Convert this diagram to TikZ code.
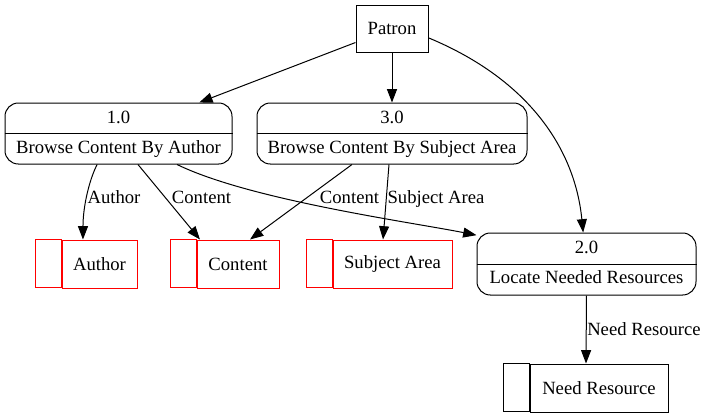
\documentclass[tikz,border=0pt]{standalone}
\usepackage{fontspec}
\setmainfont{Liberation Serif}
\usetikzlibrary{arrows.meta}

\tikzset{
  flow/.style={line width=0.75pt, -{Triangle[length=10pt,width=7.5pt]}},
  entity/.style={draw, line width=0.75pt, minimum width=54pt, minimum height=35.25pt, inner sep=0pt},
  process/.style={draw, line width=0.75pt, rounded corners=10pt, minimum height=45.75pt, inner sep=0pt},
  store/.style={line width=0.75pt, minimum height=36pt, inner sep=0pt},
  flowlabel/.style={inner sep=0pt, anchor=base}
}

\begin{document}
\begin{tikzpicture}[x=0.75pt, y=-0.75pt, font=\fontsize{14pt}{16pt}\selectfont]
\useasboundingbox (0,0) rectangle (708,419);

% external entity
\node[entity] (patron) at (392,28.5) {Patron};

% processes
\node[process, minimum width=170.25pt] (p1) at (118.5,133.5) {};
\node[process, minimum width=202.5pt] (p3) at (392,133.5) {};
\node[process, minimum width=164.25pt, minimum height=46.5pt] (p2) at (586.5,264) {};

% divider and texts of the processes
\foreach \p/\num/\txt in {p1/1.0/Browse Content By Author,
                          p3/3.0/Browse Content By Subject Area,
                          p2/2.0/Locate Needed Resources}{
  \draw[line width=0.75pt] (\p.west) -- (\p.east);
  \node[flowlabel] (\p-num) at ([yshift=-15.75pt]\p.north) {\num};
  \node[flowlabel] (\p-txt) at ([yshift=-38.25pt]\p.north) {\txt};
}

% data stores
\foreach \s/\x/\y/\w/\txt/\col in {author/99.5/264/56.25pt/Author/red,
                                   content/238/264/61.5pt/Content/red,
                                   subject/392.5/264/89.25pt/Subject Area/red,
                                   need/599/388/103.5pt/Need Resource/black}{
  \node[store, draw=\col, minimum width=\w] (\s) at (\x,\y) {\txt};
  \draw[line width=0.75pt, \col] (\s.north west) rectangle ++(-26,48);
}

% flows from patron
\draw[flow] (patron) -- (p1);
\draw[flow] (patron) -- (p3);
\draw[flow] ([yshift=-7pt]patron.east) .. controls (530,80) and (575,150) .. ([xshift=-2.5pt]p2.north);

% flows from 1.0
\draw[flow] ([xshift=-16pt]p1.south) .. controls (90,178) and (83,205) .. ([xshift=-12.4pt]author.north);
\draw[flow] ([xshift=14.6pt]p1.south) -- ([xshift=-28.5pt]content.north);
\draw[flow] ([xshift=43.9pt]p1.south) .. controls (250,200) and (410,222) .. ([yshift=-2pt]p2.north west);

% flows from 3.0
\draw[flow] ([xshift=-30pt]p3.south) -- ([xshift=9pt]content.north);
\draw[flow] ([xshift=-2.25pt]p3.south) -- ([xshift=-7.1pt]subject.north);

% flow from 2.0
\draw[flow] (p2.south) -- ([xshift=-9.75pt]need.north);

% flow labels
\node[flowlabel] (l-author) at (114,203) {Author};
\node[flowlabel] (l-content1) at (201.5,203) {Content};
\node[flowlabel] (l-content3) at (349.5,203) {Content};
\node[flowlabel] (l-subject) at (436,203) {Subject Area};
\node[flowlabel] (l-need) at (644,335) {Need Resource};

\end{tikzpicture}
\end{document}
